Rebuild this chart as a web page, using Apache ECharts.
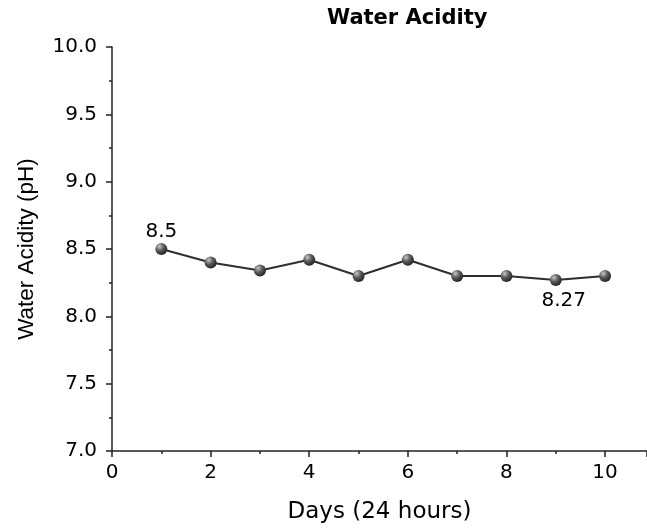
<!DOCTYPE html>
<head>
  <meta charset="utf-8">
  <title>Water Acidity</title>
  <script src="https://cdn.jsdelivr.net/npm/echarts@6/dist/echarts.min.js"></script>
  <style>
    body { margin: 0; background: #fff; }
  </style>
</head>
<body>
  <div id="main" style="width: 647px;height:529px;"></div>
  <script>
    // data
    var days = [1, 2, 3, 4, 5, 6, 7, 8, 9, 10];
    var ph = [8.50, 8.40, 8.34, 8.42, 8.30, 8.42, 8.30, 8.30, 8.27, 8.30];
    var labelled = { 0: 'top', 8: 'bottom' }; // which points carry a value label

    var myChart = echarts.init(document.getElementById('main'));
    var font = 'DejaVu Sans, sans-serif';
    var fontV = 'Liberation Sans, Arial, sans-serif';

    var sphere = new echarts.graphic.RadialGradient(0.35, 0.3, 0.75, [
      { offset: 0, color: '#c8c8c8' },
      { offset: 0.45, color: '#5e5e5e' },
      { offset: 1, color: '#1e1e1e' }
    ]);

    var points = days.map(function (d, i) {
      var item = { value: [d, ph[i]] };
      if (labelled[i] === 'top') {
        item.label = { show: true, position: 'top', distance: 1, formatter: String(ph[i]) };
      } else if (labelled[i] === 'bottom') {
        item.label = { show: true, position: 'bottom', distance: 5, offset: [8, 0], formatter: String(ph[i]) };
      }
      return item;
    });

    option = {
      animation: false,
      title: {
        text: 'Water Acidity',
        left: 322,
        top: 3,
        textStyle: { fontFamily: font, fontSize: 21, fontWeight: 'bold', color: '#000' }
      },
      grid: { left: 112, right: 0, top: 47, bottom: 77, containLabel: false },
      xAxis: {
        type: 'value',
        min: 0, max: 10.85, interval: 2,
        name: 'Days (24 hours)',
        nameLocation: 'middle',
        nameGap: 50,
        nameTextStyle: { fontFamily: font, fontSize: 23, color: '#000' },
        axisLine: { lineStyle: { color: '#222', width: 1.5 } },
        axisTick: { length: 6, lineStyle: { color: '#222', width: 1.5 } },
        minorTick: { show: true, splitNumber: 2, length: 3, lineStyle: { color: '#222', width: 1.5 } },
        splitLine: { show: false },
        axisLabel: {
          fontFamily: font, fontSize: 20, color: '#000', margin: 12,
          showMaxLabel: false,
          formatter: function (v) { return v > 10 ? '' : v; }
        }
      },
      yAxis: {
        type: 'value',
        min: 7, max: 10, interval: 0.5,
        name: 'Water Acidity (pH)',
        nameLocation: 'middle',
        nameGap: 74,
        nameTextStyle: { fontFamily: fontV, fontSize: 22.5, color: '#000' },
        axisLine: { show: true, lineStyle: { color: '#222', width: 1.5 } },
        axisTick: { show: true, length: 6, lineStyle: { color: '#222', width: 1.5 } },
        minorTick: { show: true, splitNumber: 2, length: 3, lineStyle: { color: '#222', width: 1.5 } },
        splitLine: { show: false },
        axisLabel: {
          fontFamily: font, fontSize: 20, color: '#000', margin: 15,
          formatter: function (v) { return v.toFixed(1); }
        }
      },
      series: [{
        type: 'line',
        data: points,
        symbol: 'circle',
        symbolSize: 12,
        showAllSymbol: true,
        lineStyle: { color: '#2e2e2e', width: 2 },
        itemStyle: { color: sphere, borderWidth: 0 },
        label: { fontFamily: font, fontSize: 20, color: '#000' }
      }]
    };

    myChart.setOption(option);
  </script>
</body>
